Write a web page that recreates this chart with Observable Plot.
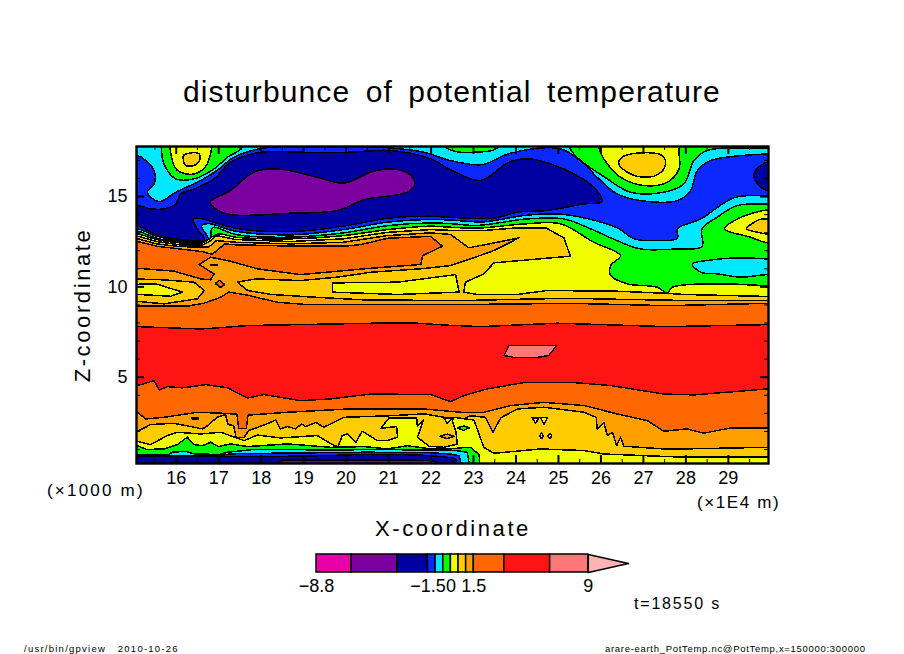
<!DOCTYPE html>
<html><head><meta charset="utf-8">
<script src="https://cdn.jsdelivr.net/npm/d3@7"></script>
<script src="https://cdn.jsdelivr.net/npm/@observablehq/plot@0.6"></script>
<style>
html,body{margin:0;padding:0;background:#fff;width:904px;height:654px;overflow:hidden}
body{font-family:"Liberation Sans",sans-serif;color:#000;position:relative}
.t{position:absolute;white-space:pre;line-height:1}
svg{position:absolute;left:0;background:transparent}
</style></head><body>
<div id="main"></div>
<div class="t" style="left:183px;top:77px;font-size:30px;letter-spacing:1.1px;word-spacing:6px">disturbunce of potential temperature</div>
<div class="t" style="left:375px;top:518px;font-size:22px;letter-spacing:2.6px">X-coordinate</div>
<div class="t" style="left:83px;top:305px;font-size:22px;letter-spacing:2.6px;transform:translate(-50%,-50%) rotate(-90deg)">Z-coordinate</div>
<div class="t" style="left:47px;top:482px;font-size:17px;letter-spacing:2.2px">(×1000 m)</div>
<div class="t" style="left:697px;top:494px;font-size:17px;letter-spacing:1.6px">(×1E4 m)</div>
<div class="t" style="left:634px;top:596px;font-size:16px;letter-spacing:1.8px">t=18550 s</div>
<div class="t" style="left:24px;top:644px;font-size:9.5px;letter-spacing:1.25px">/usr/bin/gpview   2010-10-26</div>
<div class="t" style="left:605px;top:644px;font-size:9.5px;letter-spacing:.7px">arare-earth_PotTemp.nc@PotTemp,x=150000:300000</div>
<script>
// colours of the 13 shading intervals
const mag="#e800a8",pur="#7c00a0",dkb="#0000a0",blu="#0a28ff",cya="#00e8ff",grn="#00ff00",yel="#f0ff00",gld="#ffcc00",lor="#ffa000",org="#ff6800",red="#ff1414",pnk="#ff7878",tip="#ffb4b4";
// colour bar
const levels=[-8.8,-6.5,-3.5,-1.5,-1,-.5,0,.5,1,1.5,3.5,6.5,9];
const levelColors=[mag,pur,dkb,blu,cya,grn,yel,gld,lor,org,red,pnk];
const barLabels=[-8.8,-1.5,0,1.5,9];
// axis ticks
const xMajor=[16,17,18,19,20,21,22,23,24,25,26,27,28,29];
const xMinor=[15.5,16.5,17.5,18.5,19.5,20.5,21.5,22.5,23.5,24.5,25.5,26.5,27.5,28.5,29.5];
const yMajor=[5,10,15];
const yMinor=[1,2,3,4,6,7,8,9,11,12,13,14,16,17];
// contour lines, [x (1E4 m), z (1000 m)]
const redLower=[[14.9,4.5],[15.09,4.54],[15.48,4.81],[15.6,4.3],[15.79,4.48],[16.15,4.41],[16.7,4.59],[17.21,4.41],[17.68,3.85],[18.07,4.04],[18.93,3.7],[19.64,3.8],[20.58,4.07],[21.99,4.04],[22.46,3.65],[22.77,3.98],[23.32,4.35],[24.23,4.72],[25.28,4.72],[26.23,4.54],[27.48,4.07],[28.19,4.02],[29.91,4.35],[31,4.35]];
const orangeLower=[[14.9,3.1],[15.09,3.06],[15.28,2.69],[15.71,2.78],[16.5,3.06],[17.13,3.0],[17.43,2.95],[17.47,2.15],[17.65,2.15],[17.69,2.9],[18.62,3.06],[20.03,3.24],[21.84,3.24],[22.7,3.06],[23.24,3.06],[23.87,3.43],[24.66,3.61],[25.6,3.43],[26.38,2.97],[27.09,2.6],[27.48,2.01],[28.03,2.14],[28.42,1.9],[29.05,2.19],[29.91,2.19],[31,2.19]];
const lightLower=[[14.9,1.9],[15.09,2.01],[15.4,2.38],[15.95,2.45],[16.62,2.14],[16.69,2.23],[16.97,2.79],[17.16,2.94],[17.22,2.38],[17.35,2.33],[17.41,1.68],[17.59,1.65],[17.71,2.05],[18.1,2.38],[18.34,2.63],[18.45,2.14],[18.62,2.27],[18.81,2.14],[18.95,2.41],[19.05,2.27],[19.29,2.5],[19.47,2.23],[19.95,2.78],[21.05,2.87],[21.84,2.97],[22.7,2.63],[22.93,2.87],[23.28,2.78],[23.46,1.95],[23.64,2.75],[24.03,3.24],[24.66,3.34],[25.6,3.06],[25.89,2.78],[25.91,2.14],[26.07,2.5],[26.15,1.77],[26.27,1.95],[26.37,1.21],[26.46,1.68],[26.54,1.18],[27.48,1.03],[27.95,1.03],[29.91,1.12],[31,1.12]];
const goldLower=[[14.9,1.5],[15.09,1.45],[15.4,1.27],[15.79,1.77],[16.03,1.95],[16.58,1.86],[17.05,1.95],[17.6,1.49],[17.91,1.8],[18.46,1.64],[19.32,1.77],[19.73,1.2],[19.81,1.16],[19.91,1.77],[20.03,1.86],[20.23,1.4],[20.38,2.01],[20.74,1.49],[20.97,1.49],[21.21,1.68],[21.19,2.27],[20.82,2.17],[21.01,2.75],[21.66,2.75],[21.68,2.27],[21.82,2.63],[21.68,1.68],[21.95,1.18],[22.3,1.12],[22.62,1.3],[22.58,2.04],[22.5,2.6],[22.54,2.78],[23.01,2.63],[23.13,1.86],[23.24,1.12],[23.48,.79],[24.58,1.03],[25.6,.94],[26.07,.75],[27.01,.66],[28.0,.57],[29.91,.57],[31,.57]];
const yellowLower=[[14.9,1.2],[15.09,1.2],[15.3,1],[15.71,1.03],[16.03,1.27],[16.26,1.68],[16.42,1.27],[16.62,1.21],[16.81,1.4],[16.99,1.16],[17.28,1.31],[17.68,1.16],[18.62,1.31],[19.64,1.12],[20.42,1.16],[20.97,1.03],[21.44,1.21],[21.99,1.03],[22.46,1.03],[22.7,1.09],[22.93,1.12],[23.13,.72],[23.15,.1]];
const greenLower=[[14.9,.68],[15.8,.7],[15.91,.85],[16.22,.9],[16.42,.76],[17,.72],[17.21,.85],[17.83,1],[18.46,1],[19.6,.97],[20.82,1],[21.8,.97],[22.46,.94],[22.58,.94],[22.85,.85],[22.91,.1]];
const cyanLower=[[14.9,.66],[17,.66],[17.3,.76],[18.5,.8],[20.5,.85],[22,.82],[22.46,.75],[22.66,.66],[22.72,.1]];
const blueLower=[[14.9,.62],[17,.6],[18,.6],[19.5,.66],[20.5,.73],[21.7,.7],[22.3,.6],[22.58,.5],[22.62,.1]];
const purpleBottom=[[18.3,.1],[18.5,.42],[20,.42],[22,.4],[22.4,.1]];
const spots=[
 [[[22.2,1.73],[22.38,1.85],[22.55,1.73],[22.38,1.6]],lor],
 [[[22.3,2.75],[22.5,2.75],[22.38,2.45]],yel],
 [[[22.62,2.2],[22.78,2.3],[22.9,2.2],[22.77,2.05]],grn],
 [[[24.38,2.75],[24.54,2.75],[24.46,2.45]],yel],
 [[[24.58,2.75],[24.74,2.78],[24.66,2.38]],yel],
 [[[24.55,1.75],[24.6,1.9],[24.65,1.75],[24.6,1.6]],yel],
 [[[24.75,1.75],[24.8,1.9],[24.84,1.75],[24.8,1.6]],yel],
 [[[16.37,2.75],[16.53,2.75],[16.53,2.7],[16.37,2.7]],lor]
];
const redUpper=[[14.9,7.8],[15.09,7.8],[16.58,7.67],[16.97,7.73],[17.68,7.86],[18.85,7.91],[20.66,7.99],[21.68,7.99],[22.38,7.88],[23.17,7.8],[24.97,7.99],[27.56,7.8],[29.91,7.91],[31,7.91]];
const pinkIsland=[[23.72,6.2],[23.83,6.76],[24.96,6.76],[24.77,6.2],[24.52,6.1],[23.95,6.1]];
const orangeUpper=[[14.9,8.93],[16.26,8.93],[16.66,9.1],[17.05,9.43],[17.24,9.71],[17.64,9.56],[18.38,9.15],[19.09,9.02],[20.11,9.02],[22.7,9.02],[25.28,9.09],[27.56,8.96],[29.91,9.09],[31,9.09]];
const goldLeft=[[14.9,10.45],[15.71,10.39],[16.42,10.26],[16.66,9.8],[16.5,9.34],[15.71,9.06],[15.09,9.2],[14.9,9.2]];
const yellowLeft=[[14.9,10.13],[15.52,10.17],[16.15,9.71],[15.87,9.48],[14.9,9.61]];
const orangeSpot=[[16.92,10.2],[17.02,10.35],[17.14,10.13],[17.03,9.95]];
const orangeDash=[[16.82,11.25],[16.97,11.25],[16.97,11.2],[16.82,11.2]];
const orangeIsland=[[14.9,12.51],[15.09,12.51],[15.54,12.25],[16.08,12.1],[16.62,11.95],[16.85,11.8],[17.14,12.38],[17.4,12.33],[18.84,12.25],[19.94,12.25],[20.34,12.34],[20.98,12.69],[21.99,12.8],[22.27,12.25],[21.8,11.73],[21.76,11.24],[20.42,11],[18.93,10.68],[17.91,11],[17.28,11.42],[16.81,11.64],[16.54,11.24],[16.89,10.72],[16.81,10.39],[16.58,10.44],[15.95,10.87],[15.09,11.03],[14.9,11.03]];
const goldMain=[[14.9,12.66],[15.1,12.66],[15.54,12.38],[16.08,12.23],[16.62,12.2],[16.76,12.2],[16.95,12.56],[17.4,12.47],[18.7,12.38],[19.94,12.47],[20.98,12.84],[21.99,12.99],[22.46,12.9],[22.89,12.16],[24.07,12.71],[23.48,12.01],[22.93,11.55],[22.46,11.18],[21.76,11],[20.58,10.81],[19.8,10.54],[18.93,10.35],[17.87,10.44],[17.44,10.26],[17.68,9.8],[18.23,9.58],[19.25,9.43],[20.42,9.28],[22.7,9.24],[23.79,9.3],[25.28,9.37],[26.23,9.32],[28.19,9.24],[29.91,9.24],[31,9.24],[31,19],[14,19],[14,12.66]];
const yellowRect=[[19.68,10.22],[21.21,10.26],[22.58,10.68],[22.66,9.71],[21.21,9.58],[19.68,9.71]];
const yellowUpper=[[14.9,12.8],[15.1,12.8],[15.54,12.51],[16.08,12.33],[16.62,12.33],[16.76,12.47],[16.95,12.84],[17.4,12.62],[18.7,12.51],[19.94,12.66],[20.98,13.02],[21.99,13.17],[22.46,13.13],[23.24,13.12],[24.03,13.27],[24.7,13.27],[25.13,12.71],[25.28,11.7],[23.48,11.33],[23.24,10.72],[22.81,10.26],[22.77,9.7],[23.09,9.58],[24.03,9.58],[24.74,9.8],[26.38,9.76],[27.48,9.65],[27.95,9.58],[29.91,9.47],[31,9.47]];
const greenUpper=[[14.9,12.93],[15.1,12.93],[15.54,12.62],[16.08,12.44],[16.62,12.44],[16.83,12.75],[17,12.93],[17.4,12.75],[18.7,12.66],[19.94,12.84],[20.98,13.17],[21.99,13.36],[22.46,13.3],[23.1,13.25],[24.23,13.49],[25.05,13.49],[25.83,12.47],[26.46,11.73],[26.23,11.18],[26.23,10.63],[26.62,10.17],[27.33,9.98],[27.56,9.65],[27.68,9.98],[28.74,10.17],[29.91,10.07],[31,10.07]];
const yellowRight=[[28.91,13.21],[29.21,13.76],[29.52,14.04],[29.91,14.26],[31,14.26],[31,12.44],[29.91,12.44],[29.52,12.75]];
const goldRight=[[29.43,13.21],[29.72,13.71],[29.91,13.76],[31,13.76],[31,12.93],[29.91,12.93],[29.68,13.03]];
const cyanIsland=[[28.15,11.27],[28.5,11.46],[29.29,11.61],[29.91,11.55],[31,11.55],[31,10.68],[29.91,10.68],[29.29,10.54],[28.74,10.72],[28.35,10.81]];
const cyanUpper=[[14.9,13.08],[15.1,13.08],[15.54,12.69],[16.08,12.5],[16.6,12.5],[16.8,12.7],[16.83,13.2],[16.9,13.3],[17.4,12.9],[18.7,12.75],[19.94,12.99],[20.98,13.39],[21.99,13.54],[22.46,13.5],[23.09,13.4],[24.26,13.76],[25.13,13.76],[25.76,13.21],[26.38,12.56],[26.93,12.1],[27.8,12.1],[28.38,12.23],[28.38,13.21],[28.74,13.86],[29.21,14.5],[29.91,14.59],[31,14.59]];
const blueUpper=[[14.9,13.21],[15.1,13.21],[15.54,12.8],[16.08,12.56],[16.67,12.56],[16.76,12.66],[16.6,13.36],[16.76,13.5],[17.4,13.08],[18.7,12.88],[19.94,13.17],[20.98,13.58],[21.99,13.73],[22.46,13.7],[23.24,13.6],[24.19,13.95],[24.97,14.04],[25.6,13.82],[26.38,13.27],[26.78,12.66],[27.33,12.56],[27.8,12.69],[27.8,13.21],[28.35,13.76],[29.13,14.93],[29.91,15.06],[31,15.06]];
const darkBlue=[[14,13.36],[15.1,13.36],[15.54,12.88],[16.08,12.62],[16.67,12.62],[16.5,13.2],[16.4,13.77],[16.6,13.77],[17.4,13.24],[18.7,13.06],[19.94,13.36],[20.98,13.8],[21.99,13.91],[22.46,13.85],[23.48,13.8],[24.03,14.13],[24.74,14.23],[25.6,14.59],[26.03,14.72],[25.83,15.52],[25.44,16.16],[24.81,16.81],[24.3,17.09],[23.83,16.9],[23.17,15.89],[22.46,16.48],[21.99,17.09],[21.05,17.55],[20.03,17.45],[19.01,17.45],[17.99,17.45],[17.28,16.9],[16.89,15.98],[16.42,15.42],[16.11,15.15],[15.99,14.59],[15.71,14.32],[15.4,14.32],[15.09,14.5],[14,14.5]];
const purpleIsland=[[16.8,14.69],[17.28,15.33],[17.83,16.35],[18.38,16.53],[19.32,16.07],[19.95,15.74],[20.58,16.35],[21.05,16.53],[21.48,16.25],[21.62,15.7],[21.44,15.24],[20.42,14.82],[19.8,14.23],[18.7,14.08],[17.28,14],[16.93,14.32]];
const darkRight=[[31,16.9],[29.91,16.9],[29.6,16.25],[29.72,15.61],[29.91,15.33],[31,15.33]];
const topCyan=[[14,17.27],[15.09,17.27],[15.28,16.99],[15.48,16.44],[15.48,15.7],[15.32,15.24],[15.6,14.72],[15.99,15.24],[16.58,15.89],[17.01,16.53],[17.36,17.18],[18.07,17.69],[19.01,17.77],[20.03,17.77],[21.05,17.69],[21.84,17.45],[22.46,16.99],[23.21,16.77],[23.87,17.4],[25.05,17.64],[25.6,16.81],[25.91,16.07],[26.38,15.15],[26.93,14.78],[27.8,14.78],[28.11,15.33],[28.27,16.44],[28.58,16.99],[29.91,17.36],[31,17.36]];
const topGreenA=[[15.65,19],[15.65,17.73],[15.71,16.81],[15.99,15.98],[16.42,15.98],[16.89,16.53],[17.21,17.18],[17.56,17.73],[17.6,19]];
const topGreenB=[[22.3,19],[22.35,17.73],[22.7,17.45],[23.01,17.45],[23.56,17.69],[23.6,19]];
const topGreenC=[[25.28,19],[25.28,17.64],[26.15,15.98],[26.7,15.24],[27.48,15.24],[27.95,15.7],[28.19,16.99],[28.5,17.55],[29.91,17.69],[31,17.7],[31,19]];
const topYellowA=[[15.91,19],[15.89,17.18],[16.03,16.44],[16.42,16.25],[16.73,16.81],[16.77,19]];
const topGoldA=[[16.17,17.27],[16.3,17.4],[16.54,17.36],[16.55,16.99],[16.42,16.72],[16.22,16.72],[16.17,16.99]];
const topYellowB=[[25.9,19],[25.99,17.45],[26.15,16.81],[26.46,16.07],[27.01,15.61],[27.56,15.79],[27.84,16.53],[27.84,17.36],[27.76,19]];
const topGoldB=[[26.42,16.81],[26.5,17.18],[26.85,17.4],[27.44,17.27],[27.52,16.77],[27.36,16.25],[27.09,16.07],[26.7,16.25]];

const above=p=>[...p,[p[p.length-1][0],19],[14,19],[14,p[0][1]]];
const below=p=>[...p,[p[p.length-1][0],-1],[14,-1],[14,p[0][1]]];
const region=(pts,color,smooth)=>Plot.line(pts,{x:d=>d[0],y:d=>d[1],fill:color,stroke:"#000",strokeWidth:1.5,curve:smooth?"catmull-rom-closed":"linear-closed",clip:true,shapeRendering:"crispEdges"});

const layers=[
 [below(redLower),org],[below(orangeLower),lor],[below(lightLower),gld],[below(goldLower),yel],
 [below(yellowLower),grn],[below(greenLower),cya],[below(cyanLower),blu],[below(blueLower),dkb],[purpleBottom,pur],
 ...spots,
 [above(redUpper),org],[pinkIsland,pnk],[above(orangeUpper),lor],[goldLeft,gld],[yellowLeft,yel],[orangeSpot,org],[orangeDash,org],[orangeIsland,org],
 [goldMain,gld],[yellowRect,yel],[above(yellowUpper),yel],[above(greenUpper),grn,1],[yellowRight,yel,1],[goldRight,gld,1],[cyanIsland,cya,1],
 [above(cyanUpper),cya,1],[above(blueUpper),blu,1],[darkBlue,dkb,1],[purpleIsland,pur,1],[darkRight,dkb,1],
 [above(topCyan),cya,1],[topGreenA,grn,1],[topGreenB,grn,1],[topGreenC,grn,1],[topYellowA,yel,1],[topGoldA,gld,1],[topYellowB,yel,1],[topGoldB,gld,1]
];
const H=317,W=632;
const font={fontFamily:"Liberation Sans, sans-serif",background:"transparent",overflow:"visible"};
const chart=Plot.plot({
 width:904,height:654,marginLeft:136,marginRight:136,marginTop:146,marginBottom:191,style:font,
 x:{domain:[15.065,29.945],label:null,axis:null},
 y:{domain:[.224,17.77],label:null,axis:null},
 marks:[
  Plot.frame({fill:red,stroke:"none"}),
  ...layers.map(([p,c,s])=>region(p,c,s)),
  Plot.tickX(xMajor,{x:d=>d,insetBottom:H-8,strokeWidth:2}),
  Plot.tickX(xMajor,{x:d=>d,insetTop:H-8,strokeWidth:2}),
  Plot.tickX(xMinor,{x:d=>d,insetBottom:H-4,strokeWidth:1}),
  Plot.tickX(xMinor,{x:d=>d,insetTop:H-4,strokeWidth:1}),
  Plot.tickY(yMajor,{y:d=>d,insetRight:W-8,strokeWidth:2}),
  Plot.tickY(yMajor,{y:d=>d,insetLeft:W-8,strokeWidth:2}),
  Plot.tickY(yMinor,{y:d=>d,insetRight:W-4,strokeWidth:1}),
  Plot.tickY(yMinor,{y:d=>d,insetLeft:W-4,strokeWidth:1}),
  Plot.frame({stroke:"#000",strokeWidth:2.4}),
  Plot.axisX({ticks:xMajor,tickSize:0,tickPadding:8,fontSize:18,label:null,tickFormat:d=>String(d)}),
  Plot.axisY({ticks:yMajor,tickSize:0,tickPadding:9,fontSize:18,label:null,tickFormat:d=>String(d)})
 ]
});
chart.style.top="0";
document.getElementById("main").appendChild(chart);

const tipShape=[[9,0],[9,1],[11.63,.5]];
const bar=Plot.plot({
 width:904,height:60,marginLeft:316,marginRight:276,marginTop:14,marginBottom:28,style:font,
 x:{domain:[-8.8,11.63],label:null,axis:null},
 y:{domain:[0,1],label:null,axis:null},
 marks:[
  ...levelColors.map((c,i)=>Plot.rect([i],{x1:d=>levels[d],x2:d=>levels[d+1],y1:0,y2:1,fill:c,stroke:"#000",strokeWidth:1.5})),
  Plot.line(tipShape,{x:d=>d[0],y:d=>d[1],fill:tip,stroke:"#000",strokeWidth:1.5,curve:"linear-closed"}),
  Plot.axisX({ticks:barLabels,tickSize:0,tickPadding:7,fontSize:18,label:null,tickFormat:d=>String(d).replace("-","−")})
 ]
});
bar.style.top="540px";
document.getElementById("main").appendChild(bar);
</script>
</body></html>
